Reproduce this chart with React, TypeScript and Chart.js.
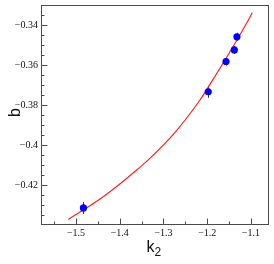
import React, { useEffect, useRef } from 'react';
import { Chart, registerables } from 'chart.js';

Chart.register(...registerables);

// Fitted curve
const curveK2 = [-1.5176, -1.47, -1.4223, -1.3606, -1.3354, -1.273, -1.2166, -1.1891, -1.15, -1.1062, -1.097];
const curveB = [-0.4370, -0.4305, -0.4232, -0.4122, -0.4074, -0.3934, -0.3774, -0.3680, -0.3541, -0.3376, -0.3338];

// Measured points
const pointK2 = [-1.483, -1.1976, -1.157, -1.138, -1.132];
const pointB = [-0.4313, -0.3733, -0.3582, -0.3524, -0.3459];
const pointBErr = [0.003, 0.003, 0.002, 0.002, 0.002];

// Axes
const xMin = -1.58;
const xMax = -1.061;
const yMin = -0.4393;
const yMax = -0.33;
const xMajorTicks = [-1.5, -1.4, -1.3, -1.2, -1.1];
const xTickLabels = ['−1.5', '−1.4', '−1.3', '−1.2', '−1.1'];
const xMinorTicks = [-1.55, -1.45, -1.35, -1.25, -1.15];
const yMajorTicks = [-0.42, -0.40, -0.38, -0.36, -0.34];
const yTickLabels = ['−0.42', '−0.4', '−0.38', '−0.36', '−0.34'];
const yMinorTicks = [-0.435, -0.43, -0.425, -0.415, -0.41, -0.405, -0.395, -0.39, -0.385, -0.375, -0.37, -0.365, -0.355, -0.35, -0.345, -0.335];
const xTitle = 'k';
const xTitleSub = '2';
const yTitle = 'b';

const axisColor = '#4a4a4a';

const decorPlugin = {
  id: 'decor',
  beforeDatasetsDraw(chart: any) {
    const ctx = chart.ctx;
    const xs = chart.scales.x;
    const ys = chart.scales.y;
    ctx.save();
    ctx.strokeStyle = '#333333';
    ctx.lineWidth = 1;
    for (let i = 0; i < pointK2.length; i++) {
      const px = Math.round(xs.getPixelForValue(pointK2[i])) + 0.5;
      const y1 = ys.getPixelForValue(pointB[i] - pointBErr[i]);
      const y2 = ys.getPixelForValue(pointB[i] + pointBErr[i]);
      ctx.beginPath();
      ctx.moveTo(px, y1);
      ctx.lineTo(px, y2);
      ctx.stroke();
    }
    ctx.restore();
  },
  afterDraw(chart: any) {
    const ctx = chart.ctx;
    const a = chart.chartArea;
    const xs = chart.scales.x;
    const ys = chart.scales.y;
    ctx.save();
    ctx.strokeStyle = axisColor;
    ctx.lineWidth = 1;
    ctx.strokeRect(Math.round(a.left) + 0.5, Math.round(a.top) + 0.5, Math.round(a.right - a.left), Math.round(a.bottom - a.top));
    const bottom = Math.round(a.bottom) + 0.5;
    const left = Math.round(a.left) + 0.5;
    ctx.beginPath();
    xMajorTicks.forEach((v) => {
      const p = Math.round(xs.getPixelForValue(v)) + 0.5;
      ctx.moveTo(p, bottom);
      ctx.lineTo(p, bottom - 6);
    });
    xMinorTicks.forEach((v) => {
      const p = Math.round(xs.getPixelForValue(v)) + 0.5;
      ctx.moveTo(p, bottom);
      ctx.lineTo(p, bottom - 3);
    });
    yMajorTicks.forEach((v) => {
      const p = Math.round(ys.getPixelForValue(v)) + 0.5;
      ctx.moveTo(left, p);
      ctx.lineTo(left + 6, p);
    });
    yMinorTicks.forEach((v) => {
      const p = Math.round(ys.getPixelForValue(v)) + 0.5;
      ctx.moveTo(left, p);
      ctx.lineTo(left + 3, p);
    });
    ctx.stroke();

    ctx.fillStyle = '#111111';
    ctx.font = '10px "Liberation Serif"';
    ctx.textAlign = 'center';
    ctx.textBaseline = 'middle';
    xMajorTicks.forEach((v, i) => {
      ctx.fillText(xTickLabels[i], xs.getPixelForValue(v), a.bottom + 9);
    });
    ctx.textAlign = 'right';
    yMajorTicks.forEach((v, i) => {
      ctx.fillText(yTickLabels[i], a.left - 3, ys.getPixelForValue(v));
    });

    // Axis titles
    ctx.font = '16px "Liberation Sans"';
    ctx.textAlign = 'left';
    ctx.textBaseline = 'alphabetic';
    const kx = (a.left + a.right) / 2 - 8;
    ctx.fillText(xTitle, kx, 252);
    const kw = ctx.measureText(xTitle).width;
    ctx.font = '12px "Liberation Sans"';
    ctx.fillText(xTitleSub, kx + kw, 256);

    ctx.save();
    ctx.translate(20, (a.top + a.bottom) / 2 - 2);
    ctx.rotate(-Math.PI / 2);
    ctx.font = '16px "Liberation Sans"';
    ctx.textAlign = 'center';
    ctx.fillText(yTitle, 0, 0);
    ctx.restore();
    ctx.restore();
  },
};

export default function App() {
  const ref = useRef<HTMLCanvasElement | null>(null);
  useEffect(() => {
    if (!ref.current) return;
    const chart = new Chart(ref.current, {
      type: 'scatter',
      data: {
        datasets: [
          {
            label: 'fit',
            data: curveK2.map((x, i) => ({ x, y: curveB[i] })),
            showLine: true,
            borderColor: '#ff2020',
            borderWidth: 1.2,
            pointRadius: 0,
            cubicInterpolationMode: 'monotone',
            fill: false,
            order: 2,
          } as any,
          {
            label: 'points',
            data: pointK2.map((x, i) => ({ x, y: pointB[i] })),
            backgroundColor: '#0000ff',
            borderColor: '#0000ff',
            borderWidth: 0,
            pointRadius: 3.6,
            order: 1,
          },
        ],
      },
      options: {
        animation: false,
        responsive: false,
        devicePixelRatio: 1,
        layout: { padding: { left: 41, right: 6, top: 5, bottom: 40 } },
        plugins: { legend: { display: false }, tooltip: { enabled: false } },
        scales: {
          x: { type: 'linear', min: xMin, max: xMax, display: false },
          y: { type: 'linear', min: yMin, max: yMax, display: false },
        },
      },
      plugins: [decorPlugin],
    });
    return () => chart.destroy();
  }, []);
  return (
    <div style={{ position: 'fixed', left: 0, top: 0, width: 274, height: 264, background: '#fff' }}>
      <canvas ref={ref} width={274} height={264} />
    </div>
  );
}
